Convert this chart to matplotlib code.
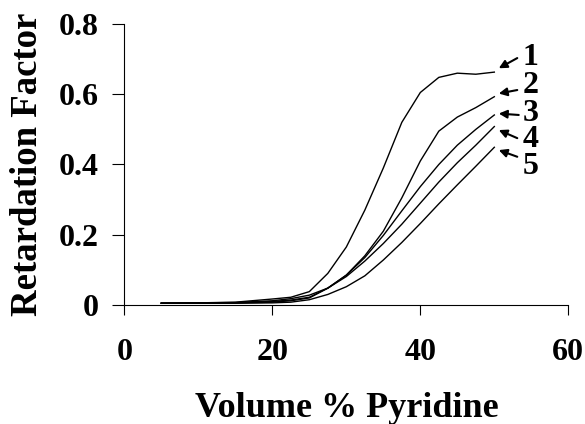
import matplotlib
matplotlib.use('Agg')
import matplotlib.pyplot as plt

# volume % pyridine vs retardation factor, curves 1-5
pyridine = [5, 10, 15, 20, 22.5, 25, 27.5, 30, 32.5, 35, 37.5, 40, 42.5, 45, 47.5, 50]
rf1 = [0.005, 0.006, 0.008, 0.017, 0.022, 0.038, 0.09, 0.165, 0.27, 0.39, 0.52, 0.605, 0.648, 0.66, 0.657, 0.663]
rf2 = [0.005, 0.006, 0.007, 0.012, 0.018, 0.028, 0.048, 0.085, 0.14, 0.21, 0.305, 0.41, 0.495, 0.535, 0.562, 0.593]
rf3 = [0.005, 0.005, 0.006, 0.010, 0.014, 0.022, 0.048, 0.085, 0.135, 0.198, 0.268, 0.337, 0.40, 0.455, 0.50, 0.541]
rf4 = [0.005, 0.005, 0.006, 0.008, 0.012, 0.020, 0.048, 0.081, 0.125, 0.175, 0.23, 0.29, 0.35, 0.405, 0.455, 0.508]
rf5 = [0.005, 0.005, 0.005, 0.006, 0.008, 0.015, 0.030, 0.052, 0.083, 0.128, 0.178, 0.232, 0.288, 0.342, 0.395, 0.449]
curves = [rf1, rf2, rf3, rf4, rf5]
curve_names = ['1', '2', '3', '4', '5']

# label arrows: (tip x, tip y, tail x, tail y, text y)
arrows = [(50.6, 0.674, 53.1, 0.703, 0.705),
          (50.6, 0.602, 53.1, 0.612, 0.626),
          (50.6, 0.545, 53.3, 0.541, 0.546),
          (50.6, 0.498, 53.1, 0.475, 0.470),
          (50.6, 0.441, 53.1, 0.422, 0.394)]

plt.rcParams['font.family'] = 'Liberation Serif'
plt.rcParams['font.weight'] = 'bold'

fig = plt.figure(figsize=(5.85, 4.24), dpi=100)
ax = fig.add_axes([0.2125, 0.2807, 0.759, 0.6627])

for rf in curves:
    ax.plot(pyridine, rf, color='black', lw=1.0)

for name, (tx, ty, sx, sy, ly) in zip(curve_names, arrows):
    ax.annotate('', xy=(tx, ty), xytext=(sx, sy),
                arrowprops=dict(arrowstyle='-|>', color='black', lw=1.5,
                                mutation_scale=12, shrinkA=0, shrinkB=0))
    ax.text(53.8, ly, name, fontsize=23, fontweight='bold', va='center', ha='left')

ax.set_xlim(0, 60)
ax.set_ylim(0, 0.8)
ax.set_xticks([0, 20, 40, 60])
ax.set_yticks([0, 0.2, 0.4, 0.6, 0.8])
ax.set_xticklabels(['0', '20', '40', '60'])
ax.set_yticklabels(['0', '0.2', '0.4', '0.6', '0.8'])
ax.tick_params(axis='x', direction='out', length=7, width=0.8, pad=17, labelsize=23)
ax.tick_params(axis='y', direction='out', length=8.5, width=0.8, pad=10, labelsize=23)
ax.spines['top'].set_visible(False)
ax.spines['right'].set_visible(False)
ax.spines['left'].set_linewidth(0.8)
ax.spines['bottom'].set_linewidth(0.8)

ax.set_xlabel('Volume % Pyridine', fontsize=26, fontweight='bold', labelpad=18)
ax.set_ylabel('Retardation Factor', fontsize=26.5, fontweight='bold', labelpad=10)

fig.savefig('out.png', dpi=100)
